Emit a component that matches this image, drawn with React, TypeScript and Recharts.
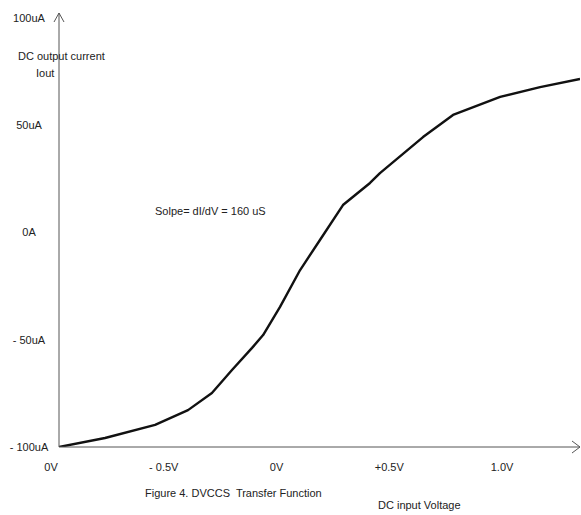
import { LineChart, Line, XAxis, YAxis, ReferenceDot } from "recharts";

// DC input voltage (V) and output current (uA)
const voltage = [-1.0, -0.796, -0.574, -0.428, -0.322, -0.233, -0.144, -0.095, -0.02, 0.069, 0.157, 0.259, 0.379, 0.423, 0.614, 0.747, 0.956, 1.133, 1.31];
const current = [-100, -95.8, -89.7, -82.8, -74.8, -64.1, -53.8, -47.8, -34.7, -17.5, -3.5, 12.8, 23.1, 27.7, 44.5, 54.8, 63.2, 67.8, 71.6];

const xTicks = [-1, -0.5, 0, 0.5, 1];
const xTickLabels = ["0V", "- 0.5V", "0V", "+0.5V", "1.0V"];
const yTicks = [-100, -50, 0, 50, 100];
const yTickLabels = ["- 100uA", "- 50uA", "0A", "50uA", "100uA"];

const data = voltage.map((v, i) => ({ v, i: current[i] }));

const FONT = "'Liberation Sans', Arial, sans-serif";
const AXIS = "#555";

function XTick({ x, payload }: any) {
  const idx = xTicks.indexOf(payload.value);
  return (
    <text x={x - 8} y={471} textAnchor="middle" fontSize={11} fill="#222" fontFamily={FONT}>
      {xTickLabels[idx]}
    </text>
  );
}

function YTick({ y, payload }: any) {
  const idx = yTicks.indexOf(payload.value);
  return (
    <text x={29} y={y + 4} textAnchor="middle" fontSize={11} fill="#222" fontFamily={FONT}>
      {yTickLabels[idx]}
    </text>
  );
}

function UpArrow({ cx, cy }: any) {
  return <polyline points={`${cx - 5},${cy + 9} ${cx},${cy} ${cx + 5},${cy + 9}`} fill="none" stroke={AXIS} strokeWidth={1} />;
}

function RightArrow({ cx, cy }: any) {
  return <polyline points={`${cx - 8},${cy - 6} ${cx},${cy} ${cx - 8},${cy + 6}`} fill="none" stroke={AXIS} strokeWidth={1} />;
}

const note = (left: number, top: number): React.CSSProperties => ({
  position: "absolute",
  left,
  top,
  fontSize: 11,
  lineHeight: "12px",
  color: "#222",
  whiteSpace: "pre",
  fontFamily: FONT,
});

export default function App() {
  return (
    <div style={{ position: "absolute", left: 0, top: 0, width: 581, height: 515, background: "#fff" }}>
      <LineChart width={581} height={515} data={data} margin={{ top: 13, right: 1, left: 0, bottom: 0 }}>
        <XAxis
          dataKey="v"
          type="number"
          domain={[-1, 1.31]}
          ticks={xTicks}
          height={68}
          axisLine={{ stroke: AXIS }}
          tickLine={false}
          tick={<XTick />}
          allowDataOverflow
        />
        <YAxis
          type="number"
          domain={[-100, 102.33]}
          ticks={yTicks}
          width={59}
          axisLine={{ stroke: AXIS }}
          tickLine={false}
          tick={<YTick />}
          allowDataOverflow
        />
        <ReferenceDot x={-1} y={102.33} r={0} shape={<UpArrow />} ifOverflow="visible" />
        <ReferenceDot x={1.31} y={-100} r={0} shape={<RightArrow />} ifOverflow="visible" />
        <Line
          type="linear"
          dataKey="i"
          stroke="#111"
          strokeWidth={2.4}
          strokeLinejoin="round"
          dot={false}
          isAnimationActive={false}
        />
      </LineChart>
      <div style={note(18, 50)}>DC output current</div>
      <div style={note(36, 67)}>Iout</div>
      <div style={note(155, 205)}>Solpe= dI/dV = 160 uS</div>
      <div style={note(145, 487)}>{"Figure 4. DVCCS  Transfer Function"}</div>
      <div style={note(378, 499)}>DC input Voltage</div>
    </div>
  );
}
